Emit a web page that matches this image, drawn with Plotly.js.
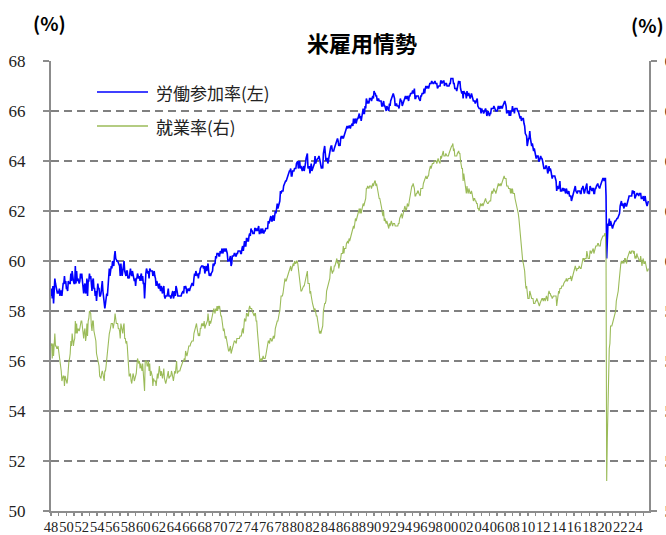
<!DOCTYPE html>
<html>
<head>
<meta charset="utf-8">
<script src="https://cdn.plot.ly/plotly-3.0.1.min.js"></script>
<style>html,body{margin:0;padding:0;background:#fff;}#chart{width:666px;height:535px;}</style>
</head>
<body>
<div id="chart"></div>
<script>
// ---- Data (monthly, one row per year starting 1948) ----
const firstYear = 1948;
const seriesNames = ["労働参加率(左)", "就業率(右)"];

// Labor force participation rate (%), left axis
const lfpr = [
[58.6,58.9,58.5,59.0,58.3,59.2,59.3,59.1,58.9,58.9,58.7,58.8],
[58.7,58.9,58.6,58.8,58.8,58.6,59.0,59.1,59.1,59.4,59.1,59.2],
[58.9,58.9,58.8,59.2,59.1,59.1,59.1,59.5,59.2,59.6,59.3,59.2],
[59.1,59.1,59.8,59.1,59.6,59.2,59.3,59.2,59.1,59.2,59.5,59.3],
[59.5,59.2,58.8,58.7,59.0,59.1,58.7,58.8,59.3,58.6,59.2,59.2],
[59.5,59.3,59.4,59.0,58.8,59.2,59.3,58.9,58.9,58.6,58.8,58.4],
[58.8,59.1,58.9,58.9,58.6,58.6,58.7,58.9,59.2,58.8,58.6,58.3],
[58.1,58.3,58.5,58.7,58.6,59.0,59.5,59.7,59.4,59.7,59.8,59.7],
[60.0,59.9,59.8,60.2,60.4,60.1,60.0,60.0,60.0,59.9,59.8,59.8],
[59.4,59.9,59.6,59.4,59.6,59.8,60.0,59.6,59.5,59.4,59.6,59.6],
[59.3,59.4,59.3,59.6,59.7,59.5,59.4,59.6,59.5,59.4,59.2,59.3],
[59.0,59.3,59.3,59.5,59.3,59.3,59.4,59.2,59.4,59.5,59.2,59.4],
[59.1,59.1,58.5,59.5,59.5,59.7,59.5,59.5,59.6,59.3,59.7,59.6],
[59.6,59.6,59.6,59.4,59.6,59.6,59.4,59.3,59.0,59.2,59.1,59.0],
[58.9,59.1,59.0,58.8,59.0,58.9,58.7,58.9,59.0,58.6,58.5,58.6],
[58.6,58.6,58.7,58.9,58.6,58.6,58.6,58.5,58.7,58.7,58.8,58.5],
[58.6,58.8,58.6,59.0,58.9,58.6,58.6,58.6,58.6,58.6,58.6,58.6],
[58.7,58.8,58.8,58.7,59.0,58.9,59.0,58.9,58.7,58.9,58.8,58.9],
[58.8,58.9,59.0,59.0,59.1,59.1,59.0,59.3,59.5,59.4,59.6,59.5],
[59.4,59.5,59.3,59.5,59.5,59.7,59.8,59.8,59.8,59.8,59.7,59.8],
[59.5,59.6,59.8,59.6,59.7,59.9,59.6,59.4,59.5,59.4,59.5,59.6],
[59.6,59.9,59.8,59.9,59.9,60.2,60.1,60.3,60.3,60.3,60.2,60.2],
[60.4,60.3,60.4,60.5,60.3,60.4,60.5,60.4,60.4,60.5,60.4,60.3],
[60.0,60.0,60.0,60.1,60.2,59.8,59.9,60.2,60.2,60.2,60.3,60.3],
[60.2,60.2,60.3,60.3,60.4,60.4,60.4,60.4,60.3,60.3,60.5,60.6],
[60.4,60.7,60.8,60.6,60.6,60.9,60.9,60.8,60.8,61.0,61.1,61.0],
[61.3,61.2,61.2,61.1,61.1,61.1,61.3,61.3,61.2,61.3,61.2,61.3],
[61.4,61.1,61.1,61.2,61.3,61.1,61.3,61.2,61.1,61.2,61.2,61.3],
[61.3,61.3,61.3,61.6,61.5,61.6,61.8,61.8,61.6,61.6,61.8,61.8],
[61.6,61.9,62.0,61.9,62.1,62.3,62.1,62.2,62.2,62.4,62.8,62.7],
[62.8,62.8,62.8,63.0,63.1,63.2,63.2,63.2,63.3,63.3,63.5,63.5],
[63.6,63.6,63.7,63.4,63.4,63.6,63.6,63.6,63.7,63.7,63.7,63.9],
[64.0,64.0,63.7,63.8,64.0,63.7,63.8,63.7,63.6,63.7,63.8,63.6],
[63.9,63.9,64.1,64.2,64.3,63.7,63.8,63.8,63.5,63.8,63.9,63.6],
[63.7,63.8,63.8,63.9,64.2,63.9,64.0,64.1,64.1,64.1,64.2,64.1],
[63.9,63.8,63.7,63.8,63.7,64.3,64.5,64.6,64.3,64.0,64.1,64.1],
[63.9,64.1,64.1,64.3,64.5,64.6,64.6,64.4,64.4,64.4,64.5,64.6],
[64.7,64.7,64.9,64.9,64.8,64.6,64.7,64.6,64.9,65.0,64.9,65.0],
[64.9,65.0,65.1,65.1,65.2,65.4,65.4,65.3,65.4,65.4,65.4,65.3],
[65.4,65.5,65.5,65.4,65.7,65.5,65.6,65.7,65.5,65.7,65.7,65.7],
[65.8,65.9,65.7,65.8,65.6,65.8,65.9,66.1,65.9,65.9,66.2,66.1],
[66.5,66.3,66.3,66.4,66.3,66.5,66.5,66.5,66.4,66.5,66.6,66.5],
[66.8,66.7,66.7,66.6,66.6,66.4,66.5,66.5,66.4,66.4,66.4,66.4],
[66.2,66.2,66.3,66.4,66.2,66.2,66.1,66.0,66.2,66.1,66.1,66.0],
[66.3,66.2,66.4,66.5,66.6,66.7,66.7,66.6,66.5,66.2,66.3,66.3],
[66.2,66.2,66.2,66.1,66.4,66.5,66.4,66.4,66.2,66.3,66.3,66.4],
[66.6,66.6,66.5,66.5,66.6,66.4,66.4,66.6,66.6,66.7,66.7,66.7],
[66.8,66.8,66.7,66.9,66.5,66.5,66.6,66.6,66.6,66.6,66.5,66.4],
[66.4,66.6,66.6,66.7,66.7,66.7,66.9,66.7,66.9,67.0,66.9,67.0],
[67.0,66.9,67.1,67.1,67.1,67.1,67.2,67.1,67.1,67.1,67.2,67.2],
[67.1,67.1,67.1,66.9,67.0,67.0,67.0,67.0,67.2,67.2,67.1,67.2],
[67.2,67.2,67.0,67.1,67.1,67.1,67.0,67.0,67.0,67.0,67.1,67.1],
[67.3,67.3,67.3,67.3,67.1,67.1,66.9,66.9,66.9,66.8,66.9,67.0],
[67.2,67.1,67.2,66.9,66.7,66.7,66.8,66.5,66.8,66.7,66.7,66.7],
[66.5,66.8,66.6,66.7,66.7,66.6,66.5,66.6,66.7,66.6,66.4,66.4],
[66.4,66.4,66.3,66.4,66.4,66.5,66.2,66.1,66.1,66.1,66.1,65.9],
[66.1,66.0,66.0,65.9,66.0,66.1,66.1,66.0,65.8,65.9,66.0,65.9],
[65.8,65.9,65.9,66.1,66.1,66.1,66.1,66.2,66.1,66.1,66.0,66.0],
[66.0,66.1,66.2,66.1,66.1,66.2,66.1,66.2,66.1,66.2,66.3,66.4],
[66.4,66.3,66.2,65.9,66.0,66.0,66.0,65.8,66.0,65.8,66.0,66.0],
[66.2,66.0,66.1,65.9,66.1,66.1,66.1,66.1,66.0,66.0,65.9,65.8],
[65.7,65.8,65.6,65.7,65.7,65.7,65.5,65.4,65.1,65.0,65.0,64.6],
[64.8,64.9,64.9,65.2,64.9,64.6,64.6,64.7,64.6,64.4,64.5,64.3],
[64.2,64.1,64.2,64.2,64.2,64.0,64.0,64.1,64.2,64.1,64.1,64.0],
[63.7,63.7,63.7,63.7,63.8,63.8,63.7,63.5,63.6,63.8,63.6,63.7],
[63.6,63.4,63.3,63.4,63.4,63.4,63.4,63.3,63.2,62.8,63.0,62.9],
[62.9,63.0,63.2,62.8,62.8,62.8,62.9,62.9,62.8,62.9,62.8,62.7],
[62.9,62.7,62.7,62.7,62.8,62.6,62.6,62.6,62.4,62.5,62.5,62.7],
[62.7,62.8,63.0,62.8,62.7,62.7,62.8,62.8,62.8,62.8,62.7,62.7],
[62.9,62.9,63.0,62.9,62.7,62.8,62.9,62.9,63.1,62.7,62.8,62.7],
[62.7,63.0,62.9,62.8,62.8,62.9,62.9,62.7,62.7,62.9,62.9,63.0],
[63.1,63.1,63.0,62.9,62.9,63.0,63.1,63.2,63.2,63.3,63.3,63.2],
[63.3,63.3,62.6,60.1,60.8,61.5,61.4,61.7,61.4,61.6,61.5,61.5],
[61.3,61.4,61.5,61.6,61.6,61.6,61.7,61.7,61.7,61.8,61.9,61.9],
[62.2,62.3,62.4,62.2,62.3,62.2,62.1,62.3,62.3,62.2,62.2,62.3],
[62.5,62.5,62.6,62.6,62.6,62.6,62.6,62.8,62.8,62.7,62.8,62.5],
[62.6,62.6,62.7,62.7,62.6,62.6,62.7,62.7,62.7,62.5,62.5,62.5],
[62.6,62.4,62.5,62.6,62.4,62.3,62.2,62.3,62.4]
];

// Employment-population ratio (%), right axis
const emp = [
[56.6,56.7,56.1,56.7,56.2,57.0,57.1,56.6,56.6,56.5,56.5,56.6],
[56.4,56.2,55.9,55.6,55.6,55.2,55.4,55.4,55.4,55.0,55.4,55.3],
[55.1,55.1,55.3,55.8,56.0,56.1,56.3,56.8,56.6,57.1,56.8,56.6],
[56.8,56.9,57.6,57.1,57.5,57.1,57.3,57.2,57.2,57.3,57.5,57.6],
[57.6,57.3,57.0,56.9,57.2,57.3,56.8,57.0,57.5,57.0,57.6,57.7],
[58.0,57.9,57.9,57.4,57.2,57.6,57.6,57.2,57.1,56.9,56.8,56.3],
[56.2,56.1,55.9,55.8,55.4,55.3,55.3,55.5,55.6,55.5,55.3,55.2],
[55.6,55.6,55.8,56.1,56.3,56.7,57.1,57.1,57.2,57.4,57.5,57.5],
[57.5,57.3,57.4,57.6,57.9,57.6,57.5,57.5,57.5,57.3,57.3,57.2],
[56.9,57.5,57.4,57.2,57.1,57.4,57.5,56.9,56.9,56.7,56.8,56.6],
[56.1,55.6,55.4,55.4,55.5,55.2,55.1,55.3,55.5,55.4,55.2,55.3],
[55.4,55.5,55.8,56.1,56.0,55.9,56.0,55.7,55.9,55.7,55.6,55.9],
[55.5,55.3,54.8,56.0,56.0,56.0,55.8,55.8,56.0,55.6,55.9,55.4],
[55.6,55.5,55.4,55.0,55.3,55.2,55.2,55.2,55.0,55.2,55.5,55.3],
[55.5,55.8,55.6,55.4,55.6,55.5,55.3,55.5,55.7,55.3,55.1,55.1],
[55.2,55.3,55.4,55.6,55.3,55.4,55.4,55.4,55.6,55.5,55.4,55.2],
[55.4,55.6,55.5,56.0,56.0,55.5,55.6,55.6,55.6,55.6,55.7,55.8],
[55.8,55.9,56.0,56.0,56.1,56.0,56.4,56.3,56.2,56.3,56.5,56.6],
[56.6,56.6,56.7,56.8,56.8,56.8,56.8,57.1,57.2,57.3,57.4,57.5],
[57.3,57.2,57.0,57.1,57.0,57.3,57.3,57.5,57.4,57.5,57.4,57.6],
[57.3,57.4,57.5,57.6,57.6,57.9,57.6,57.4,57.6,57.5,57.6,57.7],
[57.8,58.0,58.1,58.0,57.9,58.1,58.0,58.2,58.0,58.2,58.1,58.2],
[57.9,57.8,57.8,57.6,57.3,57.2,57.3,57.1,56.9,57.0,56.8,56.6],
[56.6,56.4,56.4,56.5,56.6,56.3,56.4,56.6,56.6,56.7,56.8,56.8],
[56.7,56.7,56.9,56.9,56.9,56.9,56.9,57.0,57.0,57.0,57.2,57.3],
[57.1,57.5,57.7,57.6,57.6,57.9,57.9,57.8,57.8,58.1,58.2,58.1],
[58.1,58.1,58.0,57.9,57.9,57.8,57.9,57.9,57.6,57.6,57.2,56.9],
[56.6,56.2,56.0,56.0,56.1,56.0,56.2,56.2,56.1,56.1,56.1,56.2],
[56.4,56.5,56.6,56.8,56.8,56.7,56.9,56.9,56.8,56.8,56.9,57.0],
[56.9,57.0,57.3,57.4,57.6,57.6,57.6,57.9,57.9,58.0,58.4,58.6],
[58.6,58.6,58.7,59.0,59.1,59.3,59.2,59.2,59.3,59.4,59.5,59.6],
[59.6,59.7,59.8,59.6,59.7,59.9,59.9,59.8,60.0,59.9,59.9,60.0],
[60.0,59.9,59.7,59.4,59.1,58.9,58.8,58.8,58.9,58.9,59.0,59.0],
[59.1,59.2,59.4,59.5,59.6,59.1,59.1,59.1,58.7,58.8,58.6,58.3],
[58.3,58.2,58.0,58.0,58.1,57.8,57.8,57.8,57.6,57.3,57.2,57.1],
[57.2,57.1,57.2,57.4,57.4,58.0,58.2,58.3,58.3,58.4,58.8,58.9],
[59.0,59.1,59.1,59.3,59.7,59.8,59.6,59.5,59.6,59.6,59.8,59.8],
[59.9,60.0,60.1,59.9,60.0,59.7,59.8,59.9,60.1,60.3,60.3,60.3],
[60.6,60.3,60.5,60.5,60.5,60.7,60.8,60.8,60.7,60.9,60.8,60.9],
[61.0,61.1,61.1,61.2,61.4,61.3,61.6,61.7,61.6,61.7,61.8,61.9],
[61.9,62.1,61.9,62.1,61.9,62.1,62.2,62.3,62.2,62.3,62.5,62.5],
[62.9,62.9,63.0,62.9,62.9,63.0,63.0,63.0,62.9,63.0,63.1,63.0],
[63.2,63.2,63.2,63.0,63.1,62.9,62.8,62.7,62.5,62.5,62.4,62.3],
[62.1,61.9,61.8,62.0,61.6,61.7,61.6,61.5,61.6,61.5,61.4,61.3],
[61.5,61.4,61.5,61.6,61.5,61.4,61.5,61.5,61.5,61.4,61.4,61.4],
[61.4,61.4,61.5,61.5,61.7,61.8,61.8,61.9,61.7,61.8,61.9,62.0],
[62.2,62.1,62.0,62.1,62.3,62.2,62.2,62.4,62.6,62.8,62.9,63.0],
[63.0,63.1,63.0,62.9,62.6,62.6,62.7,62.7,62.8,62.8,62.7,62.6],
[62.6,62.9,62.9,62.9,62.9,63.1,63.2,63.3,63.3,63.4,63.3,63.3],
[63.4,63.4,63.6,63.7,63.8,63.7,63.9,63.9,63.9,63.9,64.0,64.0],
[64.0,64.0,63.9,64.1,64.1,64.0,63.9,63.9,64.2,64.1,64.2,64.3],
[64.4,64.2,64.2,64.2,64.3,64.2,64.2,64.2,64.2,64.3,64.4,64.4],
[64.6,64.6,64.6,64.7,64.4,64.5,64.2,64.2,64.2,64.2,64.3,64.4],
[64.4,64.3,64.3,64.0,63.8,63.7,63.7,63.2,63.5,63.2,63.0,62.9],
[62.7,63.0,62.8,62.7,62.9,62.7,62.7,62.7,62.8,62.7,62.5,62.4],
[62.5,62.5,62.4,62.4,62.3,62.3,62.1,62.1,62.0,62.1,62.3,62.2],
[62.3,62.3,62.2,62.3,62.3,62.4,62.5,62.4,62.3,62.3,62.3,62.4],
[62.4,62.4,62.4,62.7,62.8,62.7,62.8,62.9,62.8,62.8,62.7,62.8],
[62.9,63.0,63.1,63.0,63.1,63.1,63.0,63.1,63.1,63.3,63.3,63.4],
[63.3,63.3,63.3,63.0,63.0,63.0,62.9,62.9,62.9,62.7,62.9,62.7],
[62.9,62.7,62.7,62.7,62.5,62.4,62.3,62.1,62.0,61.9,61.7,61.4],
[61.0,60.6,60.3,60.2,60.0,59.9,59.8,59.6,59.2,58.9,59.0,58.6],
[58.5,58.5,58.5,58.8,58.7,58.5,58.5,58.5,58.5,58.3,58.3,58.3],
[58.4,58.4,58.5,58.4,58.4,58.2,58.2,58.3,58.4,58.4,58.5,58.5],
[58.4,58.5,58.5,58.4,58.6,58.6,58.5,58.4,58.7,58.8,58.7,58.7],
[58.6,58.6,58.5,58.6,58.6,58.6,58.6,58.6,58.6,58.2,58.6,58.6],
[58.8,58.7,58.9,58.9,58.9,59.0,59.0,59.0,59.1,59.2,59.2,59.2],
[59.3,59.2,59.2,59.3,59.3,59.3,59.3,59.4,59.2,59.3,59.4,59.5],
[59.6,59.7,59.8,59.7,59.6,59.7,59.7,59.7,59.8,59.7,59.7,59.7],
[59.9,60.0,60.1,60.1,60.0,60.1,60.1,60.1,60.4,60.1,60.1,60.1],
[60.1,60.4,60.4,60.3,60.4,60.4,60.5,60.3,60.4,60.6,60.6,60.6],
[60.6,60.7,60.7,60.6,60.6,60.6,60.8,60.9,61.0,61.0,61.0,61.0],
[61.1,61.1,60.1,51.2,52.9,55.0,55.3,56.5,56.7,57.4,57.4,57.4],
[57.5,57.6,57.8,57.9,58.0,58.0,58.4,58.5,58.7,58.8,59.1,59.4],
[59.8,59.9,60.0,59.9,60.0,59.9,59.9,60.1,60.1,60.0,59.9,60.1],
[60.2,60.2,60.4,60.4,60.3,60.3,60.4,60.4,60.4,60.3,60.4,60.1],
[60.2,60.1,60.3,60.2,60.1,60.1,60.0,60.0,60.2,60.0,59.8,60.0],
[60.1,59.9,59.9,60.0,59.8,59.7,59.6,59.6,59.7]
];

// Tick labels (every two years)
const tickYears = [1948,1950,1952,1954,1956,1958,1960,1962,1964,1966,1968,1970,1972,1974,1976,1978,1980,1982,1984,1986,1988,1990,1992,1994,1996,1998,2000,2002,2004,2006,2008,2010,2012,2014,2016,2018,2020,2022,2024];
const tickLabels = ["48","50","52","54","56","58","60","62","64","66","68","70","72","74","76","78","80","82","84","86","88","90","92","94","96","98","00","02","04","06","08","10","12","14","16","18","20","22","24"];
const yTicks = [50,52,54,56,58,60,62,64,66,68];

// ---- Build series ----
function pad(n){return (n<10?"0":"")+n;}
function flatten(rows){
  const xs=[], ys=[];
  rows.forEach((row,i)=>{
    row.forEach((v,m)=>{ xs.push((firstYear+i)+"-"+pad(m+1)+"-01"); ys.push(v); });
  });
  return {xs, ys};
}
const A = flatten(lfpr), B = flatten(emp);

const W=666, H=535, L=51, R=17, T=61, Bm=24;
const pw=W-L-R, ph=H-T-Bm;
const px = v => (v-L)/pw;      // pixel -> paper x
const py = v => (H-Bm-v)/ph;   // pixel -> paper y

const serif = "Liberation Serif, Times New Roman, serif";
const jp = "Noto Sans CJK JP, Noto Sans, sans-serif";
const axisCol = "#8c8c8c";

const traces = [
  {x:B.xs, y:B.ys, type:"scatter", mode:"lines", name:seriesNames[1], yaxis:"y2",
   line:{color:"#9BBB59", width:1.1}, showlegend:false, hoverinfo:"skip"},
  {x:A.xs, y:A.ys, type:"scatter", mode:"lines", name:seriesNames[0],
   line:{color:"#0000FF", width:1.6}, showlegend:false, hoverinfo:"skip"}
];

const layout = {
  width:W, height:H,
  margin:{l:L, r:R, t:T, b:Bm, pad:0},
  paper_bgcolor:"#fff", plot_bgcolor:"#fff",
  showlegend:false,
  xaxis:{
    type:"date", range:["1948-01-01","2025-10-01"],
    tickmode:"array", tickvals:tickYears.map(y=>y+"-01-01"), ticktext:tickLabels,
    tickangle:0, tickfont:{family:serif, size:14.5, color:"#222"},
    ticks:"outside", ticklen:3, tickcolor:axisCol, tickwidth:1.5,
    minor:{ticks:"outside", ticklen:3, tickcolor:axisCol, tickwidth:1.5, dtick:"M12", tick0:"1948-01-01", showgrid:false},
    showgrid:false, zeroline:false,
    showline:true, linecolor:axisCol, linewidth:2,
    ticklabelstandoff:-1
  },
  yaxis:{
    range:[50,68], tickmode:"array", tickvals:yTicks,
    tickfont:{family:serif, size:17, color:"#222"},
    ticks:"outside", ticklen:6, tickcolor:axisCol, tickwidth:1.5,
    showgrid:true, gridcolor:"#808080", gridwidth:1.5, griddash:"8px,5px",
    zeroline:false, showline:true, linecolor:axisCol, linewidth:2,
    ticklabelstandoff:14
  },
  yaxis2:{
    range:[50,68], tickmode:"array", tickvals:yTicks, overlaying:"y", side:"right",
    tickfont:{family:serif, size:17, color:"#222"},
    ticks:"outside", ticklen:6, tickcolor:axisCol, tickwidth:1.5,
    showgrid:false, zeroline:false, showline:true, linecolor:axisCol, linewidth:2,
    ticklabelstandoff:4
  },
  shapes:[
    {type:"line", xref:"paper", yref:"paper", x0:px(97), x1:px(148), y0:py(92), y1:py(92), line:{color:"#0000FF", width:1.5}},
    {type:"line", xref:"paper", yref:"paper", x0:px(97), x1:px(148), y0:py(126), y1:py(126), line:{color:"#9BBB59", width:1.5}}
  ],
  annotations:[
    {text:"米雇用情勢", xref:"paper", yref:"paper", x:px(362), y:py(42), xanchor:"center", yanchor:"middle", showarrow:false,
     font:{family:jp, size:22, color:"#000", weight:"bold"}},
    {text:"(%)", xref:"paper", yref:"paper", x:px(49), y:py(22), xanchor:"center", yanchor:"middle", showarrow:false,
     font:{family:jp, size:19, color:"#000", weight:"bold"}},
    {text:"(%)", xref:"paper", yref:"paper", x:px(647), y:py(25), xanchor:"center", yanchor:"middle", showarrow:false,
     font:{family:jp, size:19, color:"#000", weight:"bold"}},
    {text:seriesNames[0], xref:"paper", yref:"paper", x:px(154), y:py(92), xanchor:"left", yanchor:"middle", showarrow:false,
     font:{family:jp, size:17, color:"#222"}},
    {text:seriesNames[1], xref:"paper", yref:"paper", x:px(154), y:py(126), xanchor:"left", yanchor:"middle", showarrow:false,
     font:{family:jp, size:17, color:"#222"}}
  ]
};

Plotly.newPlot("chart", traces, layout, {staticPlot:true, displayModeBar:false});
</script>
</body>
</html>
